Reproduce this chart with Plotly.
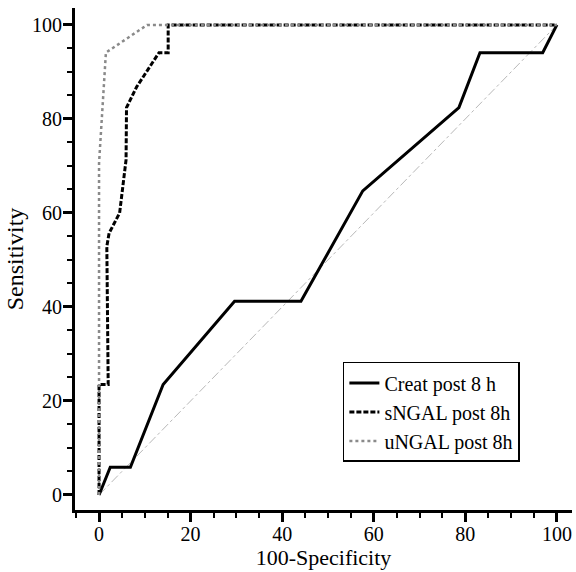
import plotly.graph_objects as go

# ROC curve data (100-Specificity, Sensitivity)
creat_x = [0, 2.45, 6.85, 14.0, 29.6, 44.1, 57.6, 78.6, 83.2, 96.9, 100]
creat_y = [0, 5.9, 5.9, 23.5, 41.2, 41.2, 64.7, 82.4, 94.1, 94.1, 100]

sngal_x = [0, 0, 2.0, 1.7, 2.2, 4.5, 5.9, 6.0, 8.2, 10.4, 13.1, 15.1, 15.1, 100]
sngal_y = [0, 23.5, 23.5, 52.9, 55.7, 60.0, 71.3, 82.4, 86.8, 90.0, 94.1, 94.1, 100, 100]

ungal_x = [0, 0, 1.5, 10.5, 100]
ungal_y = [0, 70.6, 94.1, 100, 100]

diag_x = [0, 100]
diag_y = [0, 100]

names = ["Creat post 8 h", "sNGAL post 8h", "uNGAL post 8h"]

x_range = [-5.25, 103.3]
y_range = [-3.2, 103.6]

fig = go.Figure()
fig.add_trace(go.Scatter(x=diag_x, y=diag_y, mode="lines", showlegend=False,
                         line=dict(color="#b8b8b8", width=1, dash="dashdot")))
fig.add_trace(go.Scatter(x=creat_x, y=creat_y, mode="lines", name=names[0],
                         line=dict(color="black", width=3)))
fig.add_trace(go.Scatter(x=sngal_x, y=sngal_y, mode="lines", name=names[1],
                         line=dict(color="black", width=3, dash="5px,2px")))
fig.add_trace(go.Scatter(x=ungal_x, y=ungal_y, mode="lines", name=names[2],
                         line=dict(color="#8a8a8a", width=2.5, dash="dot")))

font_family = "Liberation Serif, Times New Roman, serif"

minor_ticks = dict(ticks="outside", ticklen=5, tickwidth=2, tickcolor="black",
                   dtick=5, tick0=0, showgrid=False)

fig.update_layout(
    template="none",
    width=576, height=572,
    margin=dict(l=75, r=4, t=8, b=62, autoexpand=False),
    paper_bgcolor="white", plot_bgcolor="white",
    xaxis=dict(range=x_range, automargin=False,
               showline=True, linecolor="black", linewidth=3,
               showgrid=False, zeroline=False,
               ticks="outside", ticklen=9, tickwidth=3, tickcolor="black",
               tickmode="linear", dtick=20, tick0=0, minor=minor_ticks,
               ticklabelstandoff=-5,
               tickfont=dict(family=font_family, size=20, color="black"),
               title=dict(text="100-Specificity", standoff=0,
                          font=dict(family=font_family, size=22, color="black"))),
    yaxis=dict(range=y_range, automargin=False,
               showline=True, linecolor="black", linewidth=3,
               showgrid=False, zeroline=False,
               ticks="outside", ticklen=9, tickwidth=3, tickcolor="black",
               tickmode="linear", dtick=20, tick0=0, minor=minor_ticks,
               ticklabelstandoff=-3,
               tickfont=dict(family=font_family, size=20, color="black"),
               title=dict(text="Sensitivity", standoff=2,
                          font=dict(family=font_family, size=24, color="black"))),
    legend=dict(x=0.539, y=0.295, xanchor="left", yanchor="top",
                bordercolor="black", borderwidth=1.5, bgcolor="white",
                font=dict(family=font_family, size=20, color="black"),
                itemwidth=30),
    showlegend=True,
)

fig.write_html("out.html", config={"displayModeBar": False},
               post_script="document.body.style.margin='0';")
